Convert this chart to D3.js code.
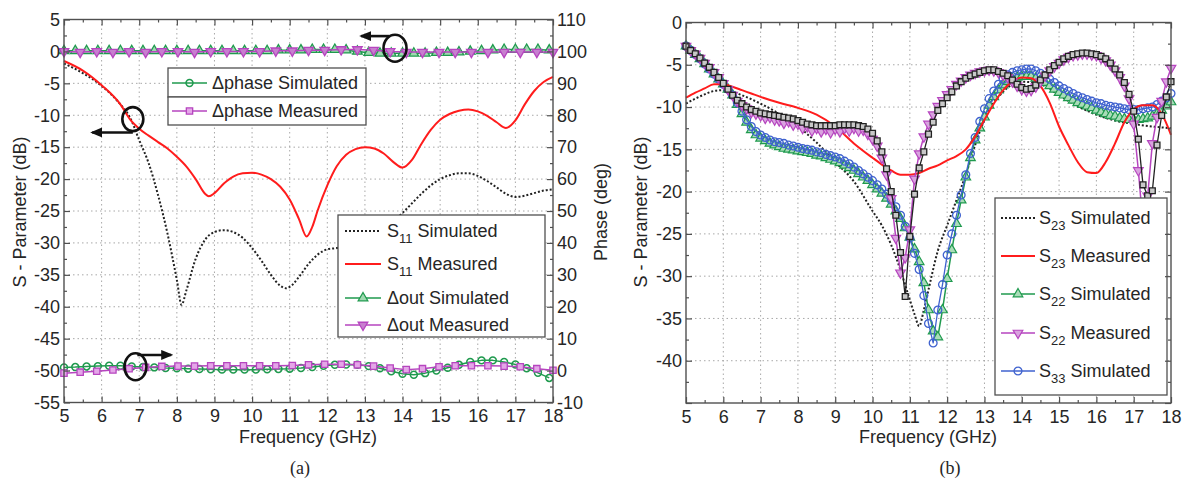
<!DOCTYPE html>
<html>
<head>
<meta charset="utf-8">
<script src="https://cdnjs.cloudflare.com/ajax/libs/d3/7.8.5/d3.min.js"></script>
<style>
body { margin: 0; background: #fff; }
</style>
</head>
<body>
<svg id="chart" width="1183" height="480"></svg>
<script>
// ---------- panel (a) data ----------
const xTicks = [5, 6, 7, 8, 9, 10, 11, 12, 13, 14, 15, 16, 17, 18];
const xMinor = [5.5, 6.5, 7.5, 8.5, 9.5, 10.5, 11.5, 12.5, 13.5, 14.5, 15.5, 16.5, 17.5];
const dbTicksA = [5, 0, -5, -10, -15, -20, -25, -30, -35, -40, -45, -50, -55];
const dbMinorA = [2.5, -2.5, -7.5, -12.5, -17.5, -22.5, -27.5, -32.5, -37.5, -42.5, -47.5, -52.5];
const phaseTicks = [110, 100, 90, 80, 70, 60, 50, 40, 30, 20, 10, 0, -10];
const phaseMinor = [105, 95, 85, 75, 65, 55, 45, 35, 25, 15, 5, -5];

const s11SimFreq = [5, 5.25, 5.5, 5.75, 6, 6.25, 6.5, 6.75, 7, 7.25, 7.5, 7.75, 8, 8.125, 8.25, 8.5, 8.75, 9, 9.25, 9.5, 9.75, 10, 10.25, 10.5, 10.75, 10.9, 11, 11.25, 11.5, 11.75, 12, 12.25, 12.5, 13, 13.5, 14, 14.25, 14.5, 14.75, 15, 15.25, 15.5, 15.75, 16, 16.25, 16.5, 16.75, 17, 17.25, 17.5, 17.75, 18];
const s11Sim = [-1.9, -2.6, -3.4, -4.3, -5.4, -6.7, -8.3, -10.3, -13.9, -17.5, -22.5, -28.5, -35.8, -39.7, -37.5, -32.5, -29.5, -28.3, -28.0, -28.3, -29.2, -30.8, -32.8, -35.0, -36.7, -37.1, -36.9, -35.3, -33.3, -31.8, -31.0, -30.8, -30.3, -29.0, -27.5, -25.3, -23.8, -22.3, -21.0, -20.0, -19.4, -19.1, -19.1, -19.5, -20.3, -21.3, -22.3, -22.8, -22.6, -22.2, -21.8, -21.6];

const s11MeasFreq = [5, 5.5, 6, 6.5, 6.75, 7, 7.25, 7.5, 7.75, 8, 8.25, 8.5, 8.75, 8.85, 9, 9.25, 9.5, 9.75, 10, 10.25, 10.5, 10.75, 11, 11.25, 11.45, 11.6, 11.75, 12, 12.25, 12.5, 12.75, 13, 13.25, 13.5, 13.75, 14, 14.25, 14.5, 14.75, 15, 15.25, 15.5, 15.75, 16, 16.25, 16.5, 16.75, 17, 17.25, 17.5, 17.75, 18];
const s11Meas = [-1.5, -3.0, -5.3, -8.3, -10.6, -12.1, -13.2, -14.2, -15.2, -16.5, -18.0, -20.0, -22.3, -22.7, -22.2, -20.7, -19.6, -19.1, -19.0, -19.3, -20.0, -21.2, -23.2, -26.3, -29.0, -27.5, -24.8, -21.0, -18.0, -16.2, -15.3, -15.0, -15.2, -16.0, -17.3, -18.2, -17.0, -14.5, -12.3, -10.7, -9.8, -9.3, -9.1, -9.4, -10.1, -11.1, -12.0, -10.8, -8.3, -6.2, -4.8, -4.0];

// simulated deltas are sampled every 0.3 GHz, measured ones every ~0.43 GHz
const simDeltaFreq = [5, 5.3, 5.6, 5.9, 6.2, 6.5, 6.8, 7.1, 7.4, 7.7, 8, 8.3, 8.6, 8.9, 9.2, 9.5, 9.8, 10.1, 10.4, 10.7, 11, 11.3, 11.6, 11.9, 12.2, 12.5, 12.8, 13.1, 13.4, 13.7, 14, 14.3, 14.6, 14.9, 15.2, 15.5, 15.8, 16.1, 16.4, 16.7, 17, 17.3, 17.6, 17.9];
const measDeltaFreq = [5, 5.43, 5.87, 6.3, 6.73, 7.17, 7.6, 8.03, 8.47, 8.9, 9.33, 9.77, 10.2, 10.63, 11.07, 11.5, 11.93, 12.37, 12.8, 13.23, 13.67, 14.1, 14.53, 14.97, 15.4, 15.83, 16.27, 16.7, 17.13, 17.57, 18];

const dPhaseSim = [1.0, 1.1, 1.3, 1.4, 1.5, 1.5, 1.3, 1.1, 1.0, 0.8, 0.7, 0.6, 0.5, 0.4, 0.3, 0.3, 0.3, 0.3, 0.4, 0.5, 0.6, 0.8, 1.1, 1.5, 1.8, 1.9, 1.8, 1.4, 0.7, -0.2, -1.0, -1.3, -0.8, 0.0, 0.9, 1.8, 2.7, 3.2, 3.2, 2.7, 1.9, 0.7, -0.7, -2.3];
const dPhaseMeas = [-0.8, -0.5, -0.2, 0.2, 0.6, 1.0, 1.3, 1.4, 1.4, 1.5, 1.5, 1.5, 1.5, 1.5, 1.6, 1.8, 2.0, 2.0, 1.8, 1.4, 0.8, 0.3, 0.6, 1.2, 1.5, 1.5, 1.5, 1.4, 1.2, 0.6, 0.1];
const dOutSim = [0.1, 0.1, 0.1, 0.1, 0.1, 0.1, 0.1, 0.1, 0.1, 0.1, 0.1, 0.1, 0.1, 0.1, 0.1, 0.1, 0.1, 0.1, 0.1, 0.2, 0.2, 0.2, 0.3, 0.3, 0.3, 0.2, 0.0, -0.2, -0.3, -0.3, -0.3, -0.3, -0.3, -0.2, -0.2, -0.1, 0.0, 0.1, 0.2, 0.3, 0.3, 0.3, 0.3, 0.2];
const dOutMeas = [0, -0.1, 0, -0.1, 0, -0.1, 0, 0, -0.1, 0, 0, 0, 0, 0.1, 0.1, 0.2, 0.2, 0.3, 0.3, 0.2, 0, -0.1, -0.1, -0.1, -0.1, -0.1, -0.1, -0.1, -0.1, -0.1, -0.1];

// ---------- panel (b) data ----------
const dbTicksB = [0, -5, -10, -15, -20, -25, -30, -35, -40, -45];
const dbLabelsB = [0, -5, -10, -15, -20, -25, -30, -35, -40];
const dbMinorB = [-2.5, -7.5, -12.5, -17.5, -22.5, -27.5, -32.5, -37.5, -42.5];

const gridFreq = [5, 5.125, 5.25, 5.375, 5.5, 5.625, 5.75, 5.875,
  6, 6.125, 6.25, 6.375, 6.5, 6.625, 6.75, 6.875,
  7, 7.125, 7.25, 7.375, 7.5, 7.625, 7.75, 7.875,
  8, 8.125, 8.25, 8.375, 8.5, 8.625, 8.75, 8.875,
  9, 9.125, 9.25, 9.375, 9.5, 9.625, 9.75, 9.875,
  10, 10.125, 10.25, 10.375, 10.5, 10.625, 10.75, 10.875,
  11, 11.125, 11.25, 11.375, 11.5, 11.625, 11.75, 11.875,
  12, 12.125, 12.25, 12.375, 12.5, 12.625, 12.75, 12.875,
  13, 13.125, 13.25, 13.375, 13.5, 13.625, 13.75, 13.875,
  14, 14.125, 14.25, 14.375, 14.5, 14.625, 14.75, 14.875,
  15, 15.125, 15.25, 15.375, 15.5, 15.625, 15.75, 15.875,
  16, 16.125, 16.25, 16.375, 16.5, 16.625, 16.75, 16.875,
  17, 17.125, 17.25, 17.375, 17.5, 17.625, 17.75, 17.875, 18];

// black square trace (no legend entry)
const s33Meas = [-2.8, -3.3, -3.7, -4.2, -4.8, -5.3, -5.9, -6.5,
  -7.2, -7.9, -8.6, -9.2, -9.6, -10.0, -10.3, -10.5,
  -10.7, -10.8, -10.9, -11.0, -11.1, -11.2, -11.3, -11.4,
  -11.6, -11.8, -12.0, -12.1, -12.2, -12.2, -12.2, -12.2,
  -12.2, -12.1, -12.1, -12.1, -12.1, -12.2, -12.3, -12.6,
  -13.1, -14.0, -15.3, -17.3, -20.0, -22.8, -27.2, -32.4,
  -25.3, -20.3, -17.2, -15.3, -13.2, -11.8, -10.4, -9.6,
  -8.9, -8.2, -7.5, -7.0, -6.6, -6.3, -6.1, -5.9,
  -5.7, -5.6, -5.6, -5.8, -6.0, -6.3, -6.8, -7.3,
  -7.7, -7.9, -7.8, -7.4, -6.8, -6.2, -5.6, -5.1,
  -4.7, -4.3, -4.0, -3.8, -3.7, -3.6, -3.6, -3.7,
  -3.8, -4.0, -4.3, -4.8, -5.5, -6.2, -7.1, -8.5,
  -10.5, -13.8, -19.2, -20.5, -19.9, -14.5, -11.0, -8.8, -7.0];

const s22Meas = [-2.8, -3.3, -3.7, -4.2, -4.8, -5.3, -5.9, -6.5,
  -7.2, -7.9, -8.6, -9.3, -9.8, -10.2, -10.6, -10.8,
  -11.0, -11.3, -11.2, -11.5, -11.6, -11.9, -11.7, -12.1,
  -12.0, -12.5, -12.3, -12.8, -12.5, -12.9, -12.6, -13.0,
  -12.6, -12.9, -12.5, -12.8, -12.5, -12.8, -12.7, -13.2,
  -13.8, -14.6, -16.0, -18.0, -20.8, -25.5, -29.6, -27.8,
  -24.5, -18.5, -15.5, -13.5, -12.0, -10.9, -9.9, -9.2,
  -8.5, -7.9, -7.3, -6.9, -6.5, -6.2, -6.0, -5.8,
  -5.7, -5.6, -5.7, -5.9, -6.2, -6.5, -7.0, -7.5,
  -7.9, -8.1, -8.0, -7.6, -7.0, -6.3, -5.7, -5.2,
  -4.8, -4.4, -4.1, -3.9, -3.8, -3.7, -3.7, -3.8,
  -3.9, -4.2, -4.5, -5.0, -5.7, -6.5, -7.5, -9.0,
  -12.0, -17.5, -24.0, -20.5, -14.3, -11.2, -9.3, -7.0, -5.4];

const s33Sim = [-2.8, -3.3, -3.8, -4.3, -4.9, -5.5, -6.1, -6.7,
  -7.3, -7.9, -8.6, -9.5, -10.5, -11.5, -12.3, -12.9,
  -13.3, -13.6, -13.9, -14.1, -14.2, -14.3, -14.5, -14.6,
  -14.75, -14.9, -15.0, -15.1, -15.3, -15.4, -15.6, -15.75,
  -15.9, -16.1, -16.4, -16.7, -17.1, -17.5, -17.9, -18.3,
  -18.7, -19.2, -19.7, -20.3, -21.0, -21.8, -22.8, -24.1,
  -25.5, -27.3, -29.2, -32.3, -35.6, -37.9, -34.0, -31.0,
  -27.5, -25.0, -22.8, -20.4, -18.0, -15.5, -13.6, -11.7,
  -10.2, -9.0, -8.1, -7.3, -6.7, -6.2, -5.9, -5.7,
  -5.6, -5.5, -5.5, -5.7, -6.0, -6.3, -6.7, -7.1,
  -7.5, -7.8, -8.1, -8.4, -8.7, -8.9, -9.1, -9.3,
  -9.5, -9.6, -9.8, -9.9, -10.0, -10.1, -10.2, -10.3,
  -10.3, -10.3, -10.2, -10.1, -10.0, -9.7, -9.3, -8.9, -8.4];

const s22Sim = [-2.8, -3.3, -3.8, -4.3, -4.9, -5.5, -6.1, -6.7,
  -7.3, -7.9, -8.6, -9.7, -10.8, -11.8, -12.7, -13.3,
  -13.7, -14.0, -14.3, -14.5, -14.7, -14.9, -15.0, -15.1,
  -15.2, -15.3, -15.4, -15.5, -15.7, -15.8, -16.0, -16.2,
  -16.4, -16.6, -16.9, -17.2, -17.5, -17.9, -18.3, -18.7,
  -19.2, -19.7, -20.2, -20.8, -21.5, -22.3, -23.2, -24.3,
  -25.4, -26.8, -28.3, -30.8, -34.0, -36.5, -37.2, -34.0,
  -30.3, -26.9, -23.8, -21.0, -18.3, -16.0, -13.9, -12.5,
  -11.2, -9.8, -8.8, -8.0, -7.4, -7.0, -6.7, -6.5,
  -6.4, -6.4, -6.4, -6.6, -6.8, -7.1, -7.5, -7.9,
  -8.3, -8.6, -8.9, -9.2, -9.5, -9.7, -9.9, -10.1,
  -10.4, -10.6, -10.8, -11.0, -11.1, -11.3, -11.4, -11.5,
  -11.5, -11.5, -11.4, -11.3, -11.1, -10.8, -10.4, -9.9, -9.4];

const s23SimFreq = [5, 5.25, 5.5, 5.75, 6, 6.25, 6.5, 7, 7.5, 8, 8.5, 9, 9.5, 10, 10.25, 10.5, 10.75, 11, 11.125, 11.25, 11.375, 11.5, 11.75, 12, 12.25, 12.5, 12.75, 13, 13.5, 14, 14.5, 15, 15.5, 16, 16.5, 17, 17.5, 18];
const s23Sim = [-9.6, -9.0, -8.5, -8.1, -8.0, -8.2, -8.6, -9.6, -10.8, -12.3, -14.2, -16.5, -18.8, -22.3, -24.0, -26.3, -29.3, -32.8, -34.5, -35.9, -34.0, -31.6, -27.0, -24.0, -21.0, -18.0, -14.5, -11.5, -8.2, -7.0, -7.3, -8.6, -9.9, -10.9, -11.6, -12.0, -12.3, -12.5];

const s23MeasFreq = [5, 5.25, 5.5, 5.75, 6, 6.25, 6.5, 6.75, 7, 7.5, 8, 8.5, 9, 9.5, 10, 10.25, 10.5, 10.75, 11, 11.25, 11.5, 11.75, 12, 12.25, 12.5, 12.75, 13, 13.25, 13.5, 13.75, 14, 14.25, 14.5, 14.75, 15, 15.25, 15.5, 15.75, 16, 16.25, 16.5, 16.75, 17, 17.25, 17.5, 17.75, 18];
const s23Meas = [-8.9, -8.3, -7.8, -7.3, -7.3, -7.6, -8.0, -8.4, -8.8, -9.5, -10.1, -10.9, -12.3, -14.3, -16.0, -16.8, -17.5, -18.0, -18.0, -17.8, -17.3, -16.9, -16.3, -15.8, -15.0, -13.5, -11.5, -9.6, -8.0, -7.0, -6.5, -6.6, -7.5, -9.5, -12.3, -14.5, -16.5, -17.7, -17.8, -16.5, -14.3, -11.8, -10.3, -9.8, -9.8, -10.8, -13.3];

const legendA1 = ['Δphase Simulated', 'Δphase Measured'];
const legendA2 = ['S_11 Simulated', 'S_11 Measured', 'Δout Simulated', 'Δout Measured'];
const legendB = ['S_23 Simulated', 'S_23 Measured', 'S_22 Simulated', 'S_22 Measured', 'S_33 Simulated'];

// ---------- styles ----------
const FONT = '"Liberation Sans", Arial, Helvetica, sans-serif';
const axisColor = '#505050';
const textColor = '#262626';
const green = '#1f9a4e';
const magenta = '#b645bf';
const blue = '#3f62cf';
const red = '#ff1c1c';
const dark = '#222';

const svg = d3.select('#chart');

const defs = svg.append('defs');
defs.append('marker')
	.attr('id', 'arrowHead')
	.attr('markerUnits', 'userSpaceOnUse')
	.attr('markerWidth', 12).attr('markerHeight', 10)
	.attr('refX', 10).attr('refY', 5)
	.attr('orient', 'auto')
	.append('path')
	.attr('d', 'M0,0 L12,5 L0,10 Z')
	.attr('fill', '#111');

const xA = d3.scaleLinear().domain([5, 18]).range([64, 553]);
const yA = d3.scaleLinear().domain([-55, 5]).range([402.5, 19.5]);
const yPhase = d3.scaleLinear().domain([-10, 110]).range([402.5, 19.5]);
const xB = d3.scaleLinear().domain([5, 18]).range([686, 1171]);
const yB = d3.scaleLinear().domain([-45, 0]).range([403, 22.5]);

function drawGrid(g, x, y, xs, ys) {
	const [yb, yt] = y.range();
	const [xl, xr] = x.range();
	g.selectAll(null).data(xs.slice(1, -1)).enter().append('line')
		.attr('x1', d => x(d)).attr('x2', d => x(d))
		.attr('y1', yt).attr('y2', yb)
		.attr('stroke', '#a8a8a8').attr('stroke-dasharray', '1.5,3');
	g.selectAll(null).data(ys.slice(1, -1)).enter().append('line')
		.attr('y1', d => y(d)).attr('y2', d => y(d))
		.attr('x1', xl).attr('x2', xr)
		.attr('stroke', '#a8a8a8').attr('stroke-dasharray', '1.5,3');
}

function tickAxis(g, axisFn, scale, values, len, pos, labels, pad) {
	const ax = axisFn(scale)
		.tickValues(values)
		.tickSizeInner(-len)
		.tickSizeOuter(0)
		.tickPadding(pad)
		.tickFormat(labels ? (d => (labels.indexOf(d) >= 0 ? String(d) : '')) : '');
	const a = g.append('g').attr('transform', pos).call(ax)
		.attr('font-family', FONT).attr('font-size', 18);
	a.select('.domain').remove();
	a.selectAll('line').attr('stroke', axisColor).attr('stroke-width', 1.2);
	a.selectAll('text').attr('fill', textColor);
}

function drawFrame(g, x, y, yMajor, yMinor, yLabels, yR, rMajor, rMinor, rLabels) {
	const [xl, xr] = x.range();
	const [yb, yt] = y.range();
	tickAxis(g, d3.axisBottom, x, xTicks, 6, `translate(0,${yb})`, xTicks, 7);
	tickAxis(g, d3.axisBottom, x, xMinor, 3, `translate(0,${yb})`, null, 7);
	tickAxis(g, d3.axisTop, x, xTicks, 6, `translate(0,${yt})`, null, 4);
	tickAxis(g, d3.axisTop, x, xMinor, 3, `translate(0,${yt})`, null, 4);
	tickAxis(g, d3.axisLeft, y, yMajor, 6, `translate(${xl},0)`, yLabels, 4);
	tickAxis(g, d3.axisLeft, y, yMinor, 3, `translate(${xl},0)`, null, 4);
	tickAxis(g, d3.axisRight, yR, rMajor, 6, `translate(${xr},0)`, rLabels, 4);
	tickAxis(g, d3.axisRight, yR, rMinor, 3, `translate(${xr},0)`, null, 4);
	g.append('rect')
		.attr('x', xl).attr('y', yt)
		.attr('width', xr - xl).attr('height', yb - yt)
		.attr('fill', 'none').attr('stroke', axisColor).attr('stroke-width', 1.4);
}

function drawLine(g, xs, ys, x, y, s) {
	g.append('path')
		.datum(d3.zip(xs, ys))
		.attr('fill', 'none')
		.attr('stroke', s.stroke)
		.attr('stroke-width', s.width)
		.attr('stroke-dasharray', s.dash || null)
		.attr('stroke-linejoin', 'round')
		.attr('d', d3.line().x(d => x(d[0])).y(d => y(d[1])).curve(s.curve || d3.curveLinear));
}

function markerPath(sel, m) {
	sel.attr('d', d3.symbol().type(m.type).size(m.size))
		.attr('fill', m.fill)
		.attr('stroke', m.stroke)
		.attr('stroke-width', m.sw || 1.2);
}

function drawMarkers(g, xs, ys, x, y, m) {
	g.selectAll(null)
		.data(d3.zip(xs, ys))
		.enter()
		.append('path')
		.attr('transform', d => `translate(${x(d[0])},${y(d[1])})${m.flip ? ' rotate(180)' : ''}`)
		.call(markerPath, m);
}

function drawSeries(g, xs, ys, x, y, s, m) {
	drawLine(g, xs, ys, x, y, s);
	if (m) drawMarkers(g, xs, ys, x, y, m);
}

function legendText(g, label, x, y) {
	const t = g.append('text')
		.attr('x', x).attr('y', y)
		.attr('font-family', FONT).attr('font-size', 18)
		.attr('fill', textColor);
	const parts = label.match(/^S_(\d+)(.*)$/);
	if (parts) {
		t.append('tspan').text('S');
		t.append('tspan').attr('font-size', 13).attr('dy', 6).text(parts[1]);
		t.append('tspan').attr('dy', -6).text(parts[2]);
	} else {
		t.text(label);
	}
}

function legendRow(g, label, s, m, x0, x1, y, tx) {
	g.append('line')
		.attr('x1', x0).attr('x2', x1).attr('y1', y).attr('y2', y)
		.attr('stroke', s.stroke).attr('stroke-width', s.width)
		.attr('stroke-dasharray', s.dash || null);
	if (m) {
		g.append('path')
			.attr('transform', `translate(${(x0 + x1) / 2},${y})${m.flip ? ' rotate(180)' : ''}`)
			.call(markerPath, m);
	}
	legendText(g, label, tx, y + 6);
}

function legendBox(g, x, y, w, h) {
	g.append('rect')
		.attr('x', x).attr('y', y).attr('width', w).attr('height', h)
		.attr('fill', '#fff').attr('stroke', axisColor).attr('stroke-width', 1.3);
}

function ringArrow(g, cx, cy, rx, ry, ax0, ax1, ay) {
	g.append('ellipse')
		.attr('cx', cx).attr('cy', cy).attr('rx', rx).attr('ry', ry)
		.attr('fill', 'none').attr('stroke', '#111').attr('stroke-width', 2.6);
	g.append('line')
		.attr('x1', ax0).attr('x2', ax1).attr('y1', ay).attr('y2', ay)
		.attr('stroke', '#111').attr('stroke-width', 2.6)
		.attr('marker-end', 'url(#arrowHead)');
}

function label(g, text, x, y, rot, family) {
	g.append('text')
		.attr('transform', `translate(${x},${y})${rot ? ` rotate(${rot})` : ''}`)
		.attr('text-anchor', 'middle')
		.attr('font-family', family || FONT).attr('font-size', 18)
		.attr('fill', textColor)
		.text(text);
}

// ---------- panel (a) ----------
const styles = {
	dotted: { stroke: dark, width: 2, dash: '2,2', curve: d3.curveMonotoneX },
	red: { stroke: red, width: 2, curve: d3.curveMonotoneX },
	green: { stroke: green, width: 1.5 },
	magenta: { stroke: magenta, width: 1.5 },
	blue: { stroke: blue, width: 1.3 },
	black: { stroke: dark, width: 1.3 }
};
const mk = {
	gCircle: { type: d3.symbolCircle, size: 38, fill: 'none', stroke: green, sw: 1.5 },
	mSquare: { type: d3.symbolSquare, size: 40, fill: '#e4a6e8', stroke: magenta, sw: 1.3 },
	gTri: { type: d3.symbolTriangle, size: 40, fill: '#9fd8b0', stroke: green, sw: 1.3 },
	mTriDown: { type: d3.symbolTriangle, size: 40, fill: '#c77fcf', stroke: magenta, sw: 1.3, flip: true },
	bSquare: { type: d3.symbolSquare, size: 34, fill: '#c8c8c8', stroke: dark, sw: 1.3 },
	bCircle: { type: d3.symbolCircle, size: 48, fill: 'none', stroke: blue, sw: 1.3 },
	gTriB: { type: d3.symbolTriangle, size: 40, fill: '#a9dcb8', stroke: green, sw: 1.2 },
	mTriDownB: { type: d3.symbolTriangle, size: 40, fill: '#d9a3df', stroke: magenta, sw: 1.2, flip: true }
};

const gA = svg.append('g');
drawGrid(gA, xA, yA, xTicks, dbTicksA);
drawSeries(gA, s11SimFreq, s11Sim, xA, yA, styles.dotted);
drawSeries(gA, s11MeasFreq, s11Meas, xA, yA, styles.red);
drawSeries(gA, simDeltaFreq, dPhaseSim, xA, yPhase, styles.green, mk.gCircle);
drawSeries(gA, measDeltaFreq, dPhaseMeas, xA, yPhase, styles.magenta, mk.mSquare);
drawSeries(gA, simDeltaFreq, dOutSim, xA, yA, styles.green, mk.gTri);
drawSeries(gA, measDeltaFreq, dOutMeas, xA, yA, styles.magenta, mk.mTriDown);

legendBox(gA, 168, 68, 198, 29);
legendBox(gA, 168, 97, 198, 28);
legendRow(gA, legendA1[0], styles.green, mk.gCircle, 172, 207, 83, 212);
legendRow(gA, legendA1[1], styles.magenta, mk.mSquare, 172, 207, 111, 212);

legendBox(gA, 338, 215, 207, 122);
legendRow(gA, legendA2[0], styles.dotted, null, 345, 381, 231, 387);
legendRow(gA, legendA2[1], styles.red, null, 345, 381, 264, 387);
legendRow(gA, legendA2[2], styles.green, mk.gTri, 345, 381, 298, 387);
legendRow(gA, legendA2[3], styles.magenta, mk.mTriDown, 345, 381, 325, 387);

ringArrow(gA, xA(6.83), yA(-10.6), 10.5, 12, xA(6.83), xA(5.75), yA(-12.7));
ringArrow(gA, xA(13.8), yA(0.5), 11.5, 13.5, xA(13.65), xA(12.9), yA(2.4));
ringArrow(gA, xA(6.9), yPhase(1.2), 11, 13.5, xA(6.95), xA(7.85), yPhase(4.9));

drawFrame(gA, xA, yA, dbTicksA, dbMinorA, dbTicksA, yPhase, phaseTicks, phaseMinor, phaseTicks);

label(gA, 'S - Parameter (dB)', 26, 212, -90);
label(gA, 'Phase (deg)', 607, 212, -90);
label(gA, 'Frequency (GHz)', 308, 443);
label(gA, '(a)', 300, 474, 0, '"Liberation Serif", "Times New Roman", serif');

// ---------- panel (b) ----------
const gB = svg.append('g');
drawGrid(gB, xB, yB, xTicks, dbTicksB);
drawSeries(gB, s23SimFreq, s23Sim, xB, yB, styles.dotted);
drawSeries(gB, gridFreq, s22Sim, xB, yB, styles.green, mk.gTriB);
drawSeries(gB, gridFreq, s33Sim, xB, yB, styles.blue, mk.bCircle);
drawSeries(gB, s23MeasFreq, s23Meas, xB, yB, styles.red);
drawSeries(gB, gridFreq, s22Meas, xB, yB, styles.magenta, mk.mTriDownB);
drawSeries(gB, gridFreq, s33Meas, xB, yB, styles.black, mk.bSquare);

legendBox(gB, 995, 198, 172, 197);
legendRow(gB, legendB[0], styles.dotted, null, 1001, 1035, 218, 1039);
legendRow(gB, legendB[1], styles.red, null, 1001, 1035, 256, 1039);
legendRow(gB, legendB[2], styles.green, mk.gTriB, 1001, 1035, 294, 1039);
legendRow(gB, legendB[3], styles.magenta, mk.mTriDownB, 1001, 1035, 333, 1039);
legendRow(gB, legendB[4], styles.blue, mk.bCircle, 1001, 1035, 371, 1039);

drawFrame(gB, xB, yB, dbTicksB, dbMinorB, dbLabelsB, yB, dbTicksB, dbMinorB, null);

label(gB, 'S - Parameter (dB)', 647, 212, -90);
label(gB, 'Frequency (GHz)', 928, 443);
label(gB, '(b)', 950, 474, 0, '"Liberation Serif", "Times New Roman", serif');
</script>
</body>
</html>
